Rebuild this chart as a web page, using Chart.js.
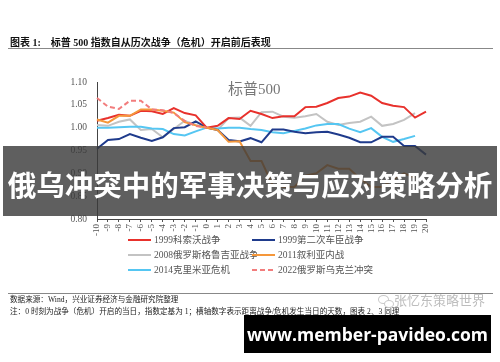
<!DOCTYPE html>
<html><head><meta charset="utf-8">
<script src="https://cdn.jsdelivr.net/npm/chart.js@4/dist/chart.umd.min.js"></script>
<style>
html,body{margin:0;padding:0;background:#fff;}
#wrap{position:relative;width:500px;height:362px;overflow:hidden;font-family:"Liberation Serif","Noto Sans CJK SC",serif;}
#c{position:absolute;left:0;top:0;}
.abs{position:absolute;white-space:nowrap;}
#hdr{left:10px;top:34px;font-size:10px;font-weight:bold;color:#111;font-family:"Liberation Serif","Noto Sans CJK SC",serif;}
.rule{position:absolute;left:8px;width:485px;height:1px;background:#888;}
#ttl{left:228px;top:77px;font-size:15px;color:#777;font-family:"Liberation Serif","Noto Sans CJK SC",serif;}
.lg{position:absolute;font-size:9.5px;color:#555;white-space:nowrap;line-height:12px;}
.lg i{position:absolute;top:5px;height:2px;width:23px;}
.lg span{position:absolute;left:26px;top:0;}
#banner{left:3px;top:146px;width:494px;height:70px;background:rgba(58,58,58,0.81);}
#btxt{left:0;top:164px;width:500px;text-align:center;font-family:"Noto Sans CJK SC",sans-serif;font-weight:bold;font-size:28.5px;color:#fff;line-height:40px;}
.ft{position:absolute;left:10px;font-size:7.6px;color:#222;white-space:nowrap;font-family:"Liberation Serif","Noto Sans CJK SC",serif;}
#wm{left:394px;top:290px;font-size:13px;color:#bdbdbd;font-family:"Noto Sans CJK SC",sans-serif;}
#box{left:244px;top:315px;width:247px;height:38px;background:#000;}
#url{left:244px;top:315px;width:247px;height:38px;line-height:38px;text-align:center;color:#fff;font-family:"Open Sans","DejaVu Sans",sans-serif;font-weight:bold;font-size:17.5px;}
</style></head>
<body><div id="wrap">
<canvas id="c" width="500" height="362"></canvas>
<div id="hdr" class="abs">图表 1:&nbsp;&nbsp;&nbsp;&nbsp;标普 500 指数自从历次战争（危机）开启前后表现</div>
<div class="rule" style="top:48px;"></div>
<div id="ttl" class="abs">标普500</div>
<div id="legend"></div>
<div id="banner" class="abs"></div>
<div id="btxt" class="abs">俄乌冲突中的军事决策与应对策略分析</div>
<div class="rule" style="top:293px;"></div>
<div class="ft" style="top:293px;">数据来源：Wind，兴业证券经济与金融研究院整理</div>
<div class="ft" style="top:305px;">注：0 时刻为战争（危机）开启的当日，指数定基为 1；横轴数字表示距离战争/危机发生当日的天数，图表 2、3 同理</div>
<div id="wm" class="abs">张忆东策略世界</div>
<div class="abs" style="left:378px;top:295px;width:9px;height:7px;border:1px solid #c8c8c8;border-radius:50%;"></div>
<div class="abs" style="left:384px;top:300px;width:8px;height:6px;border:1px solid #c8c8c8;border-radius:50%;background:#fff;"></div>
<div id="box" class="abs"></div>
<div id="url" class="abs">www.member-pavideo.com</div>
</div>
<script>
const days = [-10,-9,-8,-7,-6,-5,-4,-3,-2,-1,0,1,2,3,4,5,6,7,8,9,10,11,12,13,14,15,16,17,18,19,20];
const yTicks = [0.80,0.85,0.90,0.95,1.00,1.05,1.10];
const kosovo1999 = [1.015,1.021,1.028,1.026,1.037,1.036,1.030,1.043,1.032,1.027,1.000,1.004,1.021,1.019,1.037,1.030,1.021,1.025,1.025,1.045,1.046,1.054,1.065,1.068,1.077,1.070,1.054,1.048,1.045,1.022,1.035];
const chechnya1999 = [0.954,0.973,0.975,0.986,0.978,0.971,0.979,0.999,1.001,1.014,1.000,0.995,0.973,0.970,0.977,0.968,0.996,0.996,0.991,0.988,0.990,0.991,0.985,0.978,0.968,0.968,0.980,0.980,0.960,0.960,0.941];
const georgia2008 = [1.006,1.004,1.013,1.018,0.995,0.997,0.979,0.997,1.015,1.006,1.000,0.995,1.021,1.022,1.004,1.034,1.035,1.024,1.022,1.025,1.030,1.013,1.006,1.010,1.013,1.024,1.004,1.008,1.017,1.032];
const syria2011 = [1.018,1.011,1.026,1.026,1.040,1.040,1.037,1.033,1.012,1.005,1.000,0.995,0.969,0.970,0.927,0.927,0.875,0.870,0.870,0.895,0.900,0.918,0.910,0.910,0.888,0.870,0.870,0.887,0.900,0.890];
const crimea2014 = [1.000,1.000,1.001,1.002,1.002,0.998,0.997,0.986,0.983,0.992,1.000,0.998,1.000,1.000,0.997,0.995,0.990,0.988,0.993,0.998,1.005,1.008,1.008,0.998,0.990,0.999,0.980,0.969,0.975,0.982];
const ukraine2022 = [1.065,1.046,1.041,1.059,1.059,1.040,1.038,1.032,1.015,1.004,1.000];
const seriesNames = ["1999科索沃战争","1999第二次车臣战争","2008俄罗斯格鲁吉亚战争","2011叙利亚内战","2014克里米亚危机","2022俄罗斯乌克兰冲突"];

const colors = ["#e8312c","#1f3b8c","#c3c3c3","#f5973a","#55c6f2","#f27d7d"];
const dashes = [[],[],[],[],[],[5,3]];
const allData = [kosovo1999,chechnya1999,georgia2008,syria2011,crimea2014,ukraine2022];
const orders = [2,3,5,1,4,0];

const datasets = allData.map((d,i)=>({
  label: seriesNames[i], data: d, borderColor: colors[i], backgroundColor: colors[i],
  borderWidth: 2, borderDash: dashes[i], pointRadius: 0, tension: 0, fill: false, order: orders[i]
}));

new Chart(document.getElementById('c'), {
  type: 'line',
  data: { labels: days.map(String), datasets },
  options: {
    responsive: false, animation: false,
    layout: { padding: { left: 60, right: 74, top: 82, bottom: 123 } },
    plugins: { legend: { display: false }, tooltip: { enabled: false } },
    scales: {
      x: {
        offset: false,
        grid: { display: true, drawOnChartArea: false, drawTicks: true, tickLength: 3, color: '#555' },
        border: { display: true, color: '#444', width: 1 },
        ticks: { autoSkip: false, maxRotation: 90, minRotation: 90, padding: 2, color: '#555',
                 font: { family: 'Liberation Serif', size: 9 } },
        afterFit: s => { s.height = 20; }
      },
      y: {
        min: 0.80, max: 1.10,
        afterBuildTicks: s => { s.ticks = yTicks.map(v=>({value:v})); },
        grid: { display: true, drawOnChartArea: false, drawTicks: false, color: '#555' },
        border: { display: true, color: '#444', width: 1 },
        ticks: { padding: 10, color: '#555', font: { family: 'Liberation Serif', size: 9.5 },
                 callback: v => Number(v).toFixed(2) },
        afterFit: s => { s.width = 37; }
      }
    }
  }
});

const lg = document.getElementById('legend');
const pos = [[128,234],[252,234],[128,249],[252,249],[128,264],[252,264]];
seriesNames.forEach((n,i)=>{
  const d = document.createElement('div');
  d.className='lg'; d.style.left=pos[i][0]+'px'; d.style.top=pos[i][1]+'px';
  const line = document.createElement('i');
  if (dashes[i].length) line.style.background = `repeating-linear-gradient(90deg, ${colors[i]} 0 5px, transparent 5px 8px)`;
  else line.style.background = colors[i];
  const t = document.createElement('span'); t.textContent = n;
  d.appendChild(line); d.appendChild(t); lg.appendChild(d);
});
</script>
</body></html>
